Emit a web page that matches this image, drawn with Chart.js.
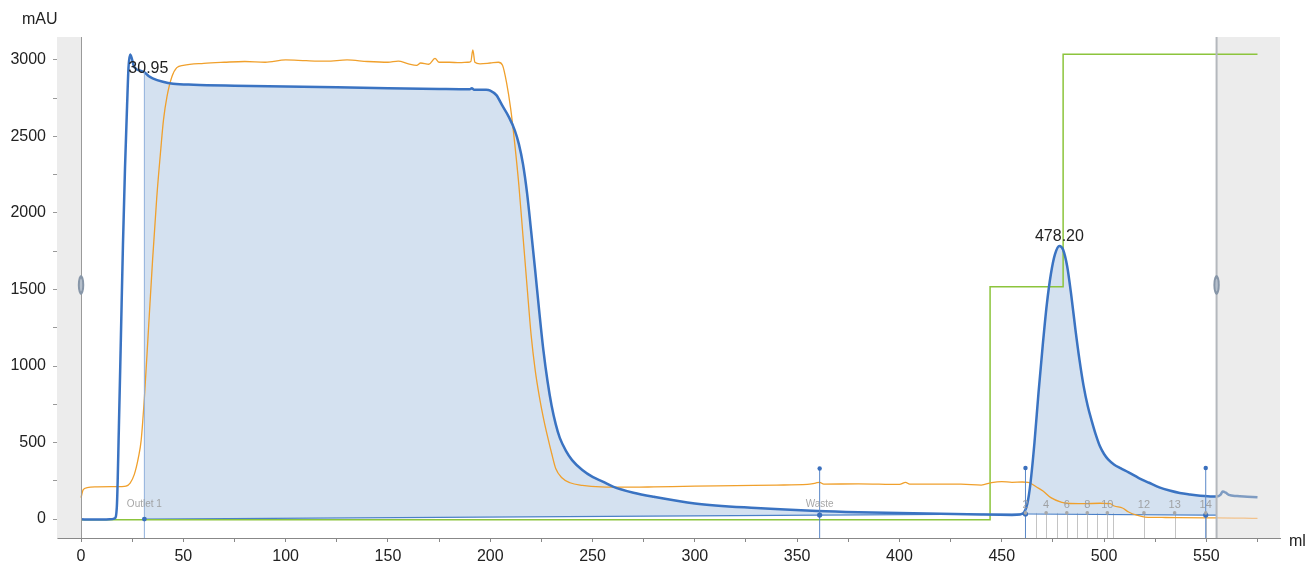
<!DOCTYPE html>
<html>
<head>
<meta charset="utf-8">
<script src="https://cdn.jsdelivr.net/npm/chart.js@4.4.1/dist/chart.umd.min.js"></script>
<style>
html,body{margin:0;padding:0;background:#fff;}
canvas{display:block;}
</style>
</head>
<body>
<canvas id="c" width="1309" height="564"></canvas>
<script>
// ---- Data ----
const uvX = [0,5,10,14,16.5,17.5,18.5,19.5,20.5,21.5,22.5,23.2,24,24.8,25.8,27,29,30.95,33,35,40,45,55,75,100,125,150,175,190,191,192,198,200,203,206,209,212,214,216,218,220,222,224,226,228,230,232,234,237,240,245,250,255,260,270,280,300,330,360,380,400,420,440,455,459,461,462.5,464,466,468,470,472,474,476,478.2,480,482,484,486,488,490,492,494,496,498,500,502,505,508,512,517,522,527,532,537,542,547,552,555,557,558,559.5,561,565,570,575];
const uvY = [-2,-3,-3,-2,5,80,600,1200,1800,2300,2700,2950,3035,3010,2960,2940,2930,2920,2895,2880,2858,2845,2838,2832,2827,2822,2815,2810,2808,2815,2806,2805,2800,2770,2700,2630,2540,2450,2320,2130,1880,1620,1350,1100,900,740,620,530,445,385,320,275,245,212,172,145,102,72,52,44,39,34,29,27,30,45,100,230,500,830,1130,1400,1600,1730,1785,1760,1650,1460,1240,1040,870,740,640,550,475,425,390,355,332,305,268,237,207,186,170,160,152,148,147,160,180,172,158,150,146,142];

const condX = [0,1,3,8,15,20,22,24,26,28,29.4,31,33,35,37,39,40.3,42,44.4,46.8,50,60,70,80,90,100,110,120,130,140,150,155,160,164,166,170,173,175,180,185,189,190.5,191.5,192.5,195,200,204,206,208,210,212,214,216,218,220,222,224,226,228,230,232,235,239,245,254,270,280,300,320,340,355,359,361,363,380,400,403,405,430,440,445,450,455,460,463,467,470,474,479,482,490,498,503,505,509,512,516,520,530,550,555,575];
const condY = [140,190,205,210,212,212,215,235,290,400,516,800,1250,1700,2100,2420,2608,2760,2890,2950,2965,2978,2985,2990,2985,3000,2995,2992,3000,2990,2985,2992,2975,2965,2980,2972,3010,2985,2985,2982,2985,2990,3065,2985,2975,2980,2985,2965,2850,2680,2450,2180,1850,1520,1200,970,800,660,540,430,330,270,237,220,210,208,210,215,218,222,226,235,240,228,230,226,240,228,228,222,238,245,240,242,240,209,185,140,111,103,100,103,100,85,72,46,25,13,10,8,8,4];

const concX = [0,444.3,444.3,480,480,575];
const concY = [-5,-5,1518,1518,3037,3037];

// integration baseline
const baseX = [30.95,361,461.6,549.7,555];
const baseY = [0,26,33,26,26];

// event markers
const markerX = [361,461.6,549.7];
const markerTop = [330,333,333];
const markerBottom = [26,33,26];
const outletX = 30.95, outletY = 2920;
const eventLabels = [{x:30.95,text:'Outlet 1'},{x:361,text:'Waste'}];

// fractions
const fracX = [461.6,466.8,471.7,476.9,481.8,486.9,491.8,496.7,501.6,504.5,519.5,534.5,549.7];
const fracLabels = ['2','','4','','6','','8','','10','','12','13','14'];

// peak labels
const peakX = [30.95,478.2];
const peakLabelY = [2941,1843];
const peakText = ['30.95','478.20'];

// axis ticks
const xTicks = [0,25,50,75,100,125,150,175,200,225,250,275,300,325,350,375,400,425,450,475,500,525,550,575];
const xLabelStep = 50;
const yTicks = [0,250,500,750,1000,1250,1500,1750,2000,2250,2500,2750,3000];
const yLabelStep = 500;

const xMin = -11.75, xMax = 586, yMin = -124, yMax = 3150;
const runStart = 0, runEnd = 555;

const zip = (xs, ys) => xs.map((x,i)=>({x:x,y:ys[i]}));
const uv = zip(uvX, uvY);
const uvFill = uv.filter(p => p.x >= 30.95 && p.x <= 555);

const after = (light) => ({ borderColor: ctx => ctx.p0.parsed.x >= runEnd ? light : undefined });

const overlay = {
  id: 'overlay',
  beforeDatasetsDraw(chart) {
    const {ctx, chartArea:a, scales:{x, y}} = chart;
    ctx.save();
    ctx.fillStyle = '#ececec';
    const x0 = x.getPixelForValue(runStart), x1 = x.getPixelForValue(runEnd);
    ctx.fillRect(a.left, a.top, x0 - a.left, a.bottom - a.top);
    ctx.fillRect(x1, a.top, a.right - x1, a.bottom - a.top);
    // fraction lines
    const yb = y.getPixelForValue(yMin), yt = y.getPixelForValue(40);
    ctx.strokeStyle = '#c4c4c4'; ctx.lineWidth = 1;
    fracX.forEach(v => {
      const px = Math.round(x.getPixelForValue(v)) + 0.5;
      ctx.beginPath(); ctx.moveTo(px, yb); ctx.lineTo(px, yt); ctx.stroke();
    });
    ctx.restore();
  },
  afterDatasetsDraw(chart) {
    const {ctx, chartArea:a, scales:{x, y}} = chart;
    ctx.save();
    const x0 = x.getPixelForValue(runStart), x1 = x.getPixelForValue(runEnd);
    // boundaries
    ctx.strokeStyle = '#9a9a9a'; ctx.lineWidth = 1;
    ctx.beginPath(); ctx.moveTo(Math.round(x0)+0.5, a.top); ctx.lineTo(Math.round(x0)+0.5, a.bottom); ctx.stroke();
    ctx.strokeStyle = '#b4b8bd'; ctx.lineWidth = 2;
    ctx.beginPath(); ctx.moveTo(x1, a.top); ctx.lineTo(x1, a.bottom); ctx.stroke();
    // handles
    const hy = y.getPixelForValue(1530);
    [x0, x1].forEach(px => {
      ctx.fillStyle = '#8796a8';
      ctx.beginPath(); ctx.ellipse(px, hy, 3.2, 10, 0, 0, Math.PI*2); ctx.fill();
      ctx.fillStyle = '#b6c0cc';
      ctx.beginPath(); ctx.ellipse(px, hy, 1.2, 6.5, 0, 0, Math.PI*2); ctx.fill();
    });
    // outlet line
    const ob = y.getPixelForValue(yMin);
    const ox = x.getPixelForValue(outletX);
    ctx.strokeStyle = '#8fb0dc'; ctx.lineWidth = 1;
    ctx.beginPath(); ctx.moveTo(ox, ob); ctx.lineTo(ox, y.getPixelForValue(outletY)); ctx.stroke();
    // marker lines
    ctx.strokeStyle = '#5a88c8'; ctx.lineWidth = 1;
    markerX.forEach((v,i) => {
      const px = x.getPixelForValue(v);
      ctx.beginPath(); ctx.moveTo(px, ob); ctx.lineTo(px, y.getPixelForValue(markerTop[i])); ctx.stroke();
    });
    ctx.fillStyle = '#3a6fbd';
    const dot = (px, py, r) => { ctx.beginPath(); ctx.arc(px, py, r, 0, Math.PI*2); ctx.fill(); };
    markerX.forEach((v,i) => {
      const px = x.getPixelForValue(v);
      dot(px, y.getPixelForValue(markerTop[i]), 2.2);
      dot(px, y.getPixelForValue(markerBottom[i]), 2.6);
    });
    dot(ox, y.getPixelForValue(0), 2.4);
    // fraction dots + labels
    ctx.font = '11px "Liberation Sans", Arial, sans-serif';
    ctx.textAlign = 'center'; ctx.textBaseline = 'middle';
    fracX.forEach((v,i) => {
      if (!fracLabels[i]) return;
      const px = x.getPixelForValue(v);
      ctx.fillStyle = '#a8a8a8';
      dot(px, y.getPixelForValue(40), 1.8);
      ctx.fillStyle = 'rgba(150,150,150,0.85)';
      ctx.fillText(fracLabels[i], px, y.getPixelForValue(95));
    });
    ctx.fillStyle = 'rgba(150,150,150,0.85)';
    ctx.font = '10px "Liberation Sans", Arial, sans-serif';
    eventLabels.forEach(l => ctx.fillText(l.text, x.getPixelForValue(l.x), y.getPixelForValue(98)));
    // peak labels
    ctx.fillStyle = '#222';
    ctx.font = '16px "Liberation Sans", Arial, sans-serif';
    peakX.forEach((v,i) => {
      ctx.fillText(peakText[i], x.getPixelForValue(v) + (i===0 ? 4 : 0), y.getPixelForValue(peakLabelY[i]));
    });
    ctx.restore();
  },
  afterDraw(chart) {
    const {ctx, chartArea:a} = chart;
    ctx.save();
    ctx.fillStyle = '#222';
    ctx.font = '16px "Liberation Sans", Arial, sans-serif';
    ctx.textBaseline = 'middle'; ctx.textAlign = 'left';
    ctx.fillText('mAU', 22, 20);
    ctx.fillText('ml', a.right + 9, a.bottom + 4);
    ctx.restore();
  }
};

new Chart(document.getElementById('c'), {
  type: 'line',
  data: {
    datasets: [
      { label:'UV', data: uv, borderColor:'#3a73c2', borderWidth:2.5, pointRadius:0, fill:false,
        cubicInterpolationMode:'monotone', order:0, segment: after('#7f9cc2') },
      { label:'Cond', data: zip(condX, condY), borderColor:'#f0a02c', borderWidth:1.3, pointRadius:0, fill:false,
        cubicInterpolationMode:'monotone', order:1, segment: after('#f2c28c') },
      { label:'Conc', data: zip(concX, concY), borderColor:'#8cc43c', borderWidth:1.5, pointRadius:0, fill:false,
        tension:0, order:2, segment: after('#b4d88c') },
      { label:'Base', data: zip(baseX, baseY), borderColor:'#4a80c8', borderWidth:1.2, pointRadius:0, fill:false,
        tension:0, order:3 },
      { label:'Area', data: uvFill, borderColor:'rgba(0,0,0,0)', borderWidth:0, pointRadius:0,
        backgroundColor:'rgba(170,196,226,0.5)', fill:{target:3}, cubicInterpolationMode:'monotone', order:4 }
    ]
  },
  options: {
    responsive:false, animation:false,
    layout:{ padding:{ left:0, top:37, right:29, bottom:0 } },
    plugins:{ legend:{display:false}, tooltip:{enabled:false} },
    scales:{
      x:{ type:'linear', min:xMin, max:xMax,
        afterBuildTicks: s => { s.ticks = xTicks.map(v => ({value:v})); },
        afterFit: s => { s.height = 26; },
        grid:{ drawOnChartArea:false, drawTicks:true, tickLength:4, color:'#888' },
        border:{ color:'#888', width:1 },
        ticks:{ autoSkip:false, maxRotation:0, padding:5, color:'#222',
          font:{ family:'"Liberation Sans", Arial, sans-serif', size:16 },
          callback: v => (v % xLabelStep === 0 ? String(v) : '') }
      },
      y:{ type:'linear', min:yMin, max:yMax,
        afterBuildTicks: s => { s.ticks = yTicks.map(v => ({value:v})); },
        afterFit: s => { s.width = 57; },
        grid:{ drawOnChartArea:false, drawTicks:true, tickLength:4, color:'#999' },
        border:{ color:'#bbb', width:1 },
        ticks:{ autoSkip:false, padding:7, color:'#222',
          font:{ family:'"Liberation Sans", Arial, sans-serif', size:16 },
          callback: v => (v % yLabelStep === 0 ? String(v) : '') }
      }
    }
  },
  plugins:[overlay]
});
</script>
</body>
</html>
